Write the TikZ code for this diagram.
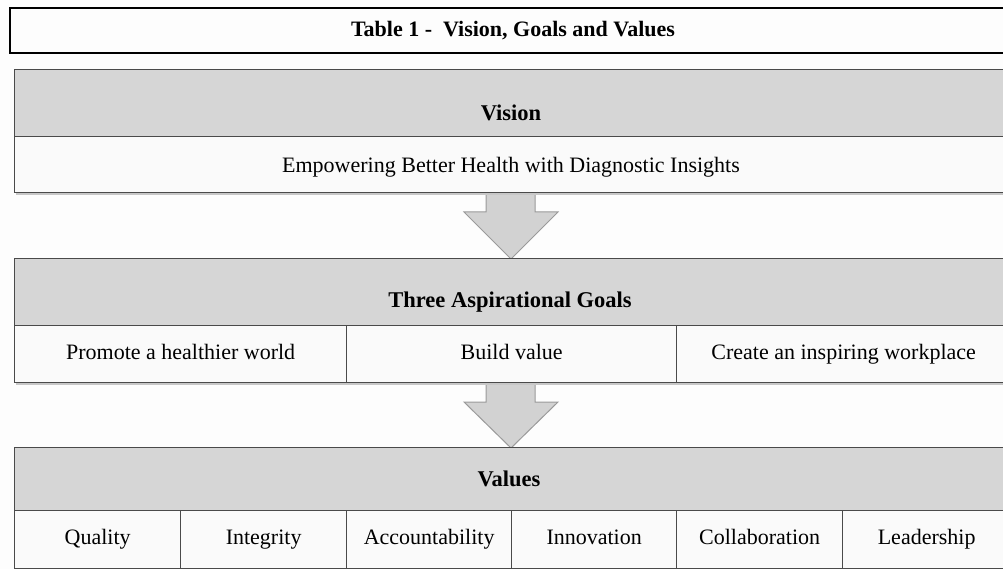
\documentclass[tikz,border=0pt]{standalone}
\usepackage{fontspec}
\setmainfont{Liberation Serif}
\definecolor{hdr}{HTML}{D6D6D6}
\definecolor{rowc}{HTML}{FAFAFA}
\definecolor{edge}{HTML}{4A4A4A}
\definecolor{arrowfill}{HTML}{D2D2D2}
\definecolor{arrowedge}{HTML}{9A9A9A}
\definecolor{bg}{HTML}{FDFDFD}
\begin{document}
\begin{tikzpicture}[x=1pt,y=-1pt,
  box/.style={draw=edge, line width=1.3pt, inner sep=0pt, anchor=north west},
  hdrbox/.style={box, fill=hdr},
  cellbox/.style={box, fill=rowc, font=\fontsize{22}{26}\selectfont, text height=1em, text depth=0em},
  hdrtext/.style={font=\fontsize{22.5}{26}\selectfont\bfseries, inner sep=0pt},
  celltext/.style={font=\fontsize{22}{26}\selectfont, inner sep=0pt},
  bigarrow/.style={fill=arrowfill, draw=arrowedge, line width=1pt, line join=miter},
  shadowbar/.style={fill=black!22},
]
\useasboundingbox (0,0) rectangle (1003,569);
\clip (0,0) rectangle (1003,569);
\fill[bg] (0,0) rectangle (1003,569);

% title
\node[draw=black, line width=2.4pt, anchor=north west, minimum width=1001, minimum height=45, inner sep=0pt] (title) at (9,7) {};
\node[hdrtext, font=\fontsize{22}{26}\selectfont\bfseries] (titletext) at (513,31) {Table 1 -\ \ Vision, Goals and Values};

% arrows
\draw[bigarrow] (486,192) -- (486,212) -- (464,212) -- (511,259) -- (558,212) -- (535,212) -- (535,192) -- cycle;
\draw[bigarrow] (486,382) -- (486,402) -- (464,402) -- (511,448) -- (558,402) -- (535,402) -- (535,382) -- cycle;

% shadows
\fill[shadowbar] (16,192) rectangle (1010,195);
\fill[shadowbar] (16,382) rectangle (1010,385);

% vision block
\node[hdrbox, minimum width=996, minimum height=67] (vh) at (14,69) {};
\node[hdrtext] (vht) at (511,113) {Vision};
\node[cellbox, minimum width=996, minimum height=56] (vr) at (14,136) {};
\node[celltext] (vrt) at (511,167.5) {Empowering Better Health with Diagnostic Insights};

% goals block
\node[hdrbox, minimum width=996, minimum height=67] (gh) at (14,258) {};
\node[hdrtext] (ght) at (510,302) {Three Aspirational Goals};
\node[cellbox, minimum width=332, minimum height=57] (g1) at (14,325) {Promote a healthier world};
\node[cellbox, minimum width=330, minimum height=57] (g2) at (346,325) {Build value};
\node[cellbox, minimum width=334, minimum height=57] (g3) at (676,325) {Create an inspiring workplace};

% values block
\node[hdrbox, minimum width=996, minimum height=63] (vah) at (14,447) {};
\node[hdrtext] (vaht) at (509,479) {Values};
\node[cellbox, minimum width=166, minimum height=58] (c1) at (14,510) {Quality};
\node[cellbox, minimum width=166, minimum height=58] (c2) at (180,510) {Integrity};
\node[cellbox, minimum width=165, minimum height=58] (c3) at (346,510) {Accountability};
\node[cellbox, minimum width=165, minimum height=58] (c4) at (511,510) {Innovation};
\node[cellbox, minimum width=166, minimum height=58] (c5) at (676,510) {Collaboration};
\node[cellbox, minimum width=168, minimum height=58] (c6) at (842,510) {Leadership};
\end{tikzpicture}
\end{document}
